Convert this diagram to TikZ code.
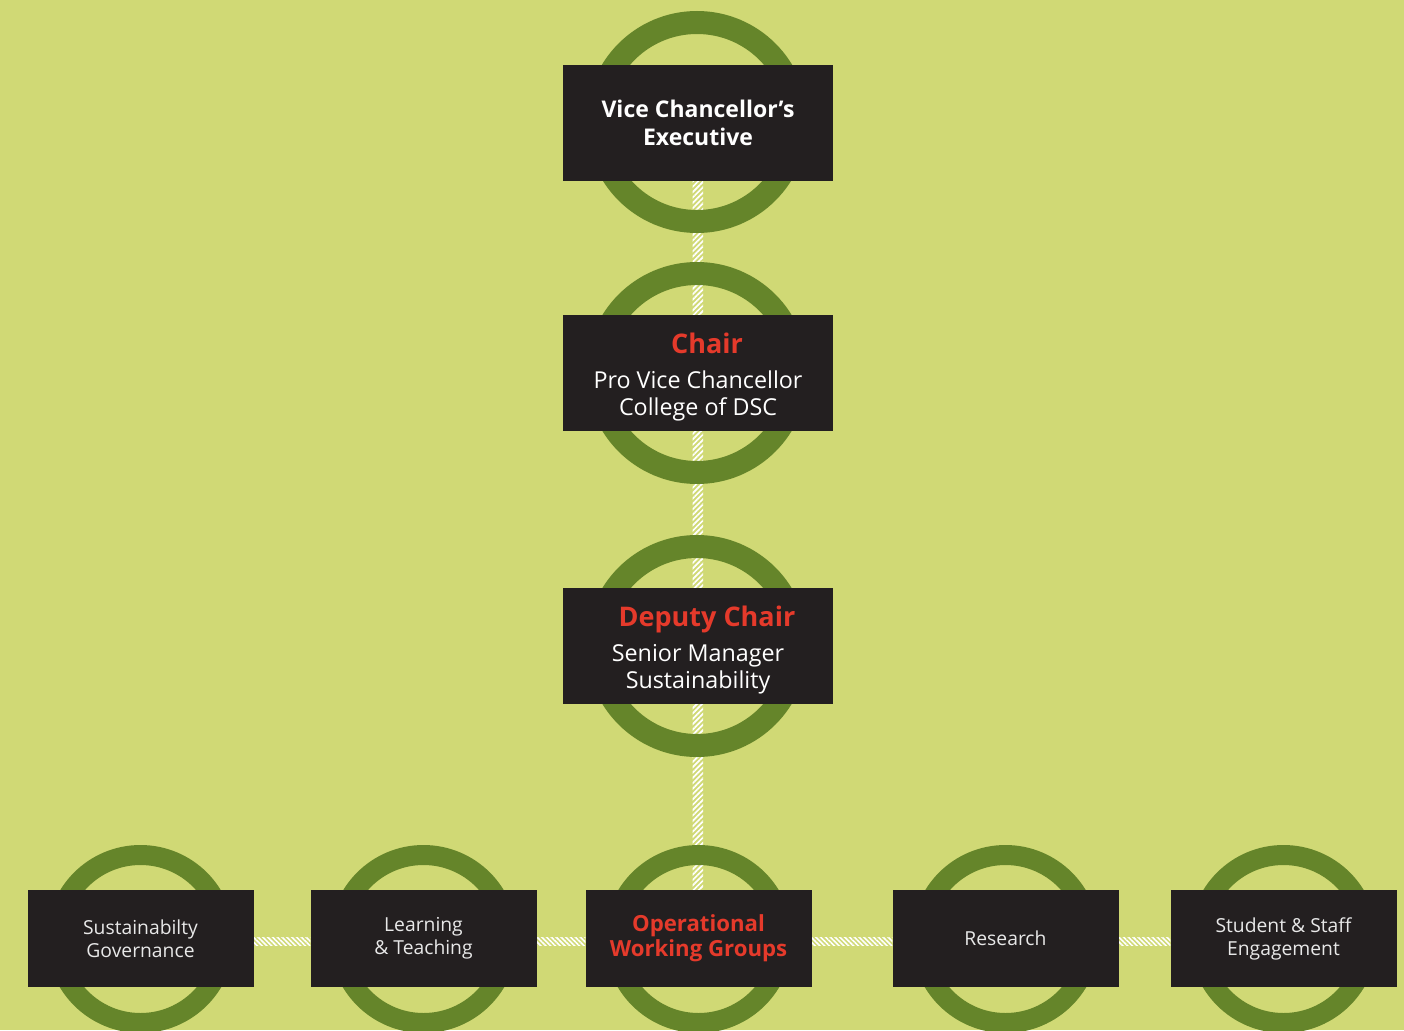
\documentclass[tikz,border=0pt]{standalone}
\usepackage{fontspec}
\setmainfont{Open Sans}
\usetikzlibrary{calc,patterns.meta}
\definecolor{bgc}{HTML}{D0D975}
\definecolor{ringc}{HTML}{65852A}
\definecolor{boxc}{HTML}{231F20}
\definecolor{redc}{HTML}{E53A2B}
\definecolor{lightc}{HTML}{E8E8E8}
\pgfdeclarelayer{bg}
\pgfdeclarelayer{mid}
\pgfsetlayers{bg,mid,main}
\tikzset{
  bigbox/.style={fill=boxc, minimum width=270pt, minimum height=116pt, inner sep=0pt, align=center, text=white,
    font=\fontsize{23.3}{27}\selectfont},
  smallbox/.style={fill=boxc, minimum width=226pt, minimum height=97pt, inner sep=0pt, align=center, text=lightc,
    font=\fontsize{19.3}{23}\selectfont},
  bigring/.style={draw=ringc, line width=23pt},
  smallring/.style={draw=ringc, line width=20pt},
  vhatch/.style={pattern={Lines[angle=45,distance=3.8pt,line width=1.7pt]}, pattern color=white},
  hhatch/.style={pattern={Lines[angle=-45,distance=3.4pt,line width=1.6pt]}, pattern color=white}
}
\begin{document}
\begin{tikzpicture}[x=1pt,y=-1pt]
\useasboundingbox (0,0) rectangle (1404,1030);
\clip (0,0) rectangle (1404,1030);
% boxes
\node[bigbox, font=\fontsize{23}{28}\selectfont\bfseries] (vce) at (698,123) {Vice Chancellor’s\\Executive};
\node[bigbox] (chair) at (698,373) {{\fontsize{27}{30}\selectfont\bfseries\color{redc}\rule{0pt}{28pt}\hspace*{18pt}Chair}\\[8pt]Pro Vice Chancellor\\College of DSC};
\node[bigbox] (deputy) at (698,646) {{\fontsize{27}{30}\selectfont\bfseries\color{redc}\rule{0pt}{28.5pt}\hspace*{18pt}Deputy Chair}\\[8pt]Senior Manager\\Sustainability};
\node[smallbox] (gov) at (140.5,938.5) {Sustainabilty\\Governance};
\node[smallbox] (learn) at (423.5,938.5) {Learning\\\&~Teaching};
\node[smallbox, text=redc, font=\fontsize{22.2}{25}\selectfont\bfseries] (ops) at (698.5,938.5) {Operational\\Working Groups};
\node[smallbox] (research) at (1005.5,938.5) {Research};
\node[smallbox] (students) at (1283.5,938.5) {Student \& Staff\\Engagement};
\begin{pgfonlayer}{bg}
  \fill[bgc] (0,0) rectangle (1404,1030);
\end{pgfonlayer}
\begin{pgfonlayer}{mid}
  % connectors
  \fill[vhatch] ($(vce.south)+(-5.5,0)$) rectangle ($(ops.north)+(4.5,0)$);
  \fill[hhatch] ($(gov.east)+(0,-1.5)$) rectangle ($(learn.west)+(0,7)$);
  \fill[hhatch] ($(learn.east)+(0,-1.5)$) rectangle ($(ops.west)+(0,7)$);
  \fill[hhatch] ($(ops.east)+(0,-1.5)$) rectangle ($(research.west)+(0,7)$);
  \fill[hhatch] ($(research.east)+(0,-1.5)$) rectangle ($(students.west)+(0,7)$);
  % rings
  \draw[bigring] ($(vce.center)+(-1,-1)$) circle[radius=99.5];
  \draw[bigring] (chair.center) ++(-1,0) circle[radius=99.5];
  \draw[bigring] (deputy.center) ++(-1,0) circle[radius=99.5];
  \foreach \n in {gov,learn,ops,research,students}
    \draw[smallring] (\n.center) ++(0,0.5) circle[radius=84];
\end{pgfonlayer}
\end{tikzpicture}
\end{document}
